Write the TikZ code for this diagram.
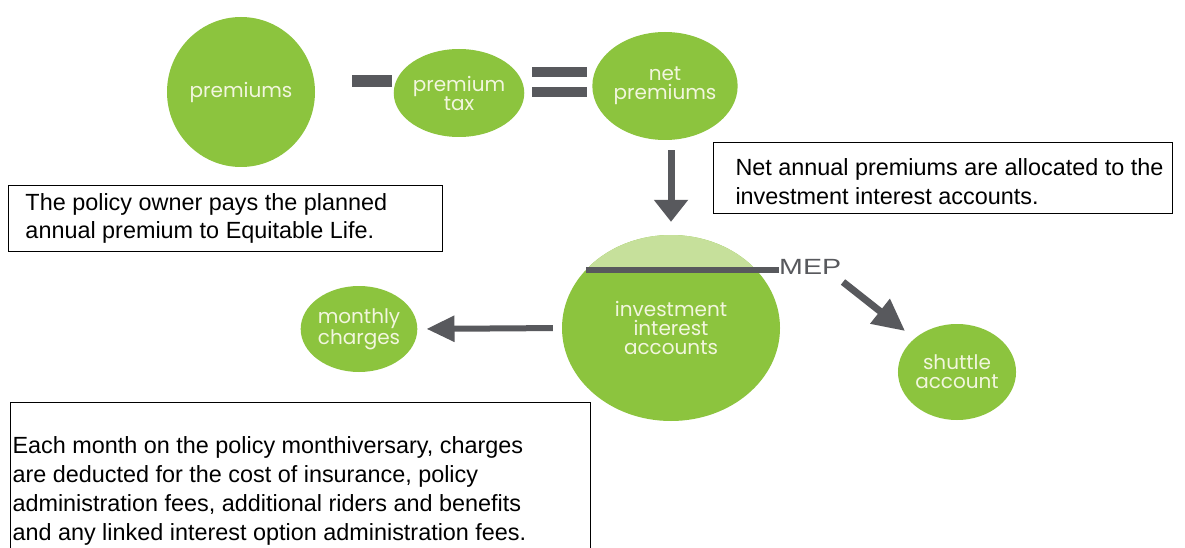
\documentclass[tikz,border=0pt]{standalone}
\usepackage{fontspec}
\setmainfont{Liberation Sans}
\newfontfamily\geo{Poppins}
\usetikzlibrary{shapes.geometric,arrows.meta}
\definecolor{leaf}{RGB}{140,196,62}
\definecolor{leaflight}{RGB}{198,224,155}
\definecolor{bar}{RGB}{88,89,93}
\definecolor{leaftext}{RGB}{242,246,222}
\newcommand{\notetext}[3]{\hspace*{#1}\parbox[t]{#2}{\raggedright #3}}
\begin{document}
\begin{tikzpicture}[x=1pt,y=-1pt,
  bubble/.style={ellipse, fill=leaf, inner sep=0pt, text=leaftext,
    font=\geo\fontsize{20}{19}\selectfont, align=center},
  note/.style={draw=black, line width=1pt, anchor=north west,
    inner xsep=0pt, font=\fontsize{23.4}{29}\selectfont},
  flow/.style={draw=bar, line width=#1},
  barshape/.style={fill=bar}
]
\useasboundingbox (0,0) rectangle (1185,548);
\fill[white] (0,0) rectangle (1185,548);

% top row
\node[bubble, minimum width=148pt, minimum height=150pt] (prem) at (241,92) {premiums};
\node[bubble, minimum width=100pt, minimum height=88pt] (tax) at (459,93) {premium\\tax};
\node[bubble, minimum width=124pt, minimum height=108pt] (net) at (665,86) {net\\premiums};
\fill[barshape] (352,75) rectangle (392,87);
\fill[barshape] (532,67) rectangle (587,77);
\fill[barshape] (532,87) rectangle (587,97);

% investment bubble with cap
\node[bubble, minimum width=218pt, minimum height=186pt] (inv) at (671,328) {investment\\interest\\accounts};
\begin{scope}
  \clip (0,0) rectangle (1185,270);
  \fill[leaflight] (671,328) ellipse [x radius=109pt, y radius=93pt];
\end{scope}
\node[anchor=base west, inner sep=0pt, text=bar, font=\fontsize{22}{22}\selectfont] (mep) at (779,274) {\scalebox{1.3}[1]{MEP}};
\coordinate (capleft) at (586,270);
\draw[flow=6pt] (capleft) -- (capleft -| mep.west);

\node[bubble, minimum width=108pt, minimum height=86pt] (mon) at (359,329) {monthly\\charges};
\node[bubble, minimum width=116pt, minimum height=96pt] (shut) at (957,372) {shuttle\\account};

% arrows
\draw[flow=7pt, -{Triangle[length=22pt,width=33pt]}, shorten <=10pt, shorten >=13pt]
  (net.south -| inv.north) -- (inv.north);
\draw[flow=6pt, -{Triangle[length=28pt,width=25pt]}, shorten <=9pt, shorten >=9pt]
  (inv.west) -- (mon.east);
\coordinate (mepout) at (843,282);
\draw[flow=7pt, -{Triangle[length=32pt,width=30pt]}, shorten >=12pt]
  (mepout) -- (shut);

% notes
\node[note, inner ysep=8pt, font=\fontsize{23.4}{28}\selectfont] (policy) at (8,185)
  {\notetext{17pt}{417pt}{The policy owner pays the planned\\annual premium to Equitable Life.}};
\node[note, inner ysep=9pt] (netnote) at (713,142)
  {\notetext{22pt}{437pt}{\rule{0pt}{24pt}Net annual premiums are allocated to the\\investment interest accounts.}};
\node[note, inner ysep=34pt] (monthnote) at (10,402)
  {\notetext{2pt}{578pt}{Each month on the policy monthiversary, charges\\are deducted for the cost of insurance, policy\\administration fees, additional riders and benefits\\and any linked interest option administration fees.}};
\end{tikzpicture}
\end{document}
